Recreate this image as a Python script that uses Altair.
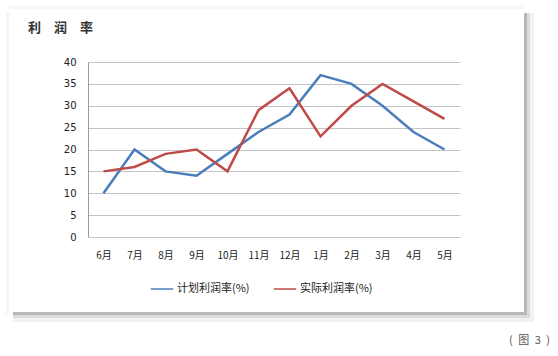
import altair as alt
import pandas as pd

months = ["6月", "7月", "8月", "9月", "10月", "11月", "12月", "1月", "2月", "3月", "4月", "5月"]
plan = [10, 20, 15, 14, 19, 24, 28, 37, 35, 30, 24, 20]
actual = [15, 16, 19, 20, 15, 29, 34, 23, 30, 35, 31, 27]
series = ["计划利润率(%)", "实际利润率(%)"]
colors = ["#4a7ebb", "#be4b48"]

rows = []
for m, p, a in zip(months, plan, actual):
    rows.append({"month": m, "value": p, "series": series[0]})
    rows.append({"month": m, "value": a, "series": series[1]})
df = pd.DataFrame(rows)

W, H = 372, 175
L, T = 88, 62

# card shadow strips (decoration, pixel coordinates relative to plot origin)
CL, CR, CT, CB = 9, 524, 9, 312
strips = []
for d, op in [(3, 0.16), (6, 0.09), (10, 0.05)]:
    strips.append({"x": CL + 4 - L, "x2": CR + d - L, "y": CB - T, "y2": CB + d - T, "op": op})
    strips.append({"x": CR - L, "x2": CR + d - L, "y": CT + 4 - T, "y2": CB - T, "op": op})
strips.append({"x": CL - 3 - L, "x2": CL - L, "y": CT + 2 - T, "y2": CB + 2 - T, "op": 0.04})
strips.append({"x": CL - L, "x2": CR - L, "y": CT - 3 - T, "y2": CT - T, "op": 0.03})
sdf = pd.DataFrame(strips)

shadow = alt.Chart(sdf).mark_rect(color="#000000").encode(
    x=alt.X("x:Q", scale=None), x2="x2:Q", y=alt.Y("y:Q", scale=None), y2="y2:Q",
    opacity=alt.Opacity("op:Q", scale=None),
)

lines = alt.Chart(df).mark_line(strokeWidth=2.5, clip=False).encode(
    x=alt.X("month:N", sort=months, scale=alt.Scale(padding=0.5),
            axis=alt.Axis(title=None, labelAngle=0, ticks=False, domain=False, labelPadding=13,
                          labelFontSize=10, labelColor="#222222", labelFont="Noto Sans CJK SC")),
    y=alt.Y("value:Q", scale=alt.Scale(domain=[0, 40]),
            axis=alt.Axis(title=None, values=list(range(0, 41, 5)), ticks=False, domainColor="#9a9a9a",
                          gridColor="#c4c4c4", labelPadding=12, labelFontSize=10, labelColor="#222222",
                          labelFont="DejaVu Sans")),
    color=alt.Color("series:N", scale=alt.Scale(domain=series, range=colors),
                    legend=alt.Legend(title=None, orient="none", legendX=62, legendY=215, direction="horizontal",
                                      symbolType="stroke", symbolSize=500, symbolStrokeWidth=1.5,
                                      labelFont="Noto Sans CJK SC", labelFontSize=11, labelColor="#222222",
                                      columnPadding=20, labelOffset=3)),
)

one = pd.DataFrame({"a": [0]})
title = alt.Chart(one).mark_text(text="利\u3000润\u3000率", align="left", baseline="middle", fontSize=13,
                                 fontWeight="bold", font="Noto Sans CJK SC", color="#333333").encode(
    x=alt.value(28 - L), y=alt.value(28 - T)
)
fig = alt.Chart(one).mark_text(text="(\u2002图\u20023\u2002)", align="right", baseline="middle", fontSize=11,
                               font="Noto Sans CJK SC", color="#555555").encode(
    x=alt.value(550 - L), y=alt.value(341 - T)
)

chart = alt.layer(shadow, lines, title, fig).properties(
    width=W, height=H,
    autosize=alt.AutoSizeParams(type="none"),
    padding={"left": L, "top": T, "right": 558 - L - W, "bottom": 356 - T - H},
    background="#ffffff",
).configure_view(stroke=None)

chart.save("out.html", embed_options={"renderer": "svg", "actions": False})
